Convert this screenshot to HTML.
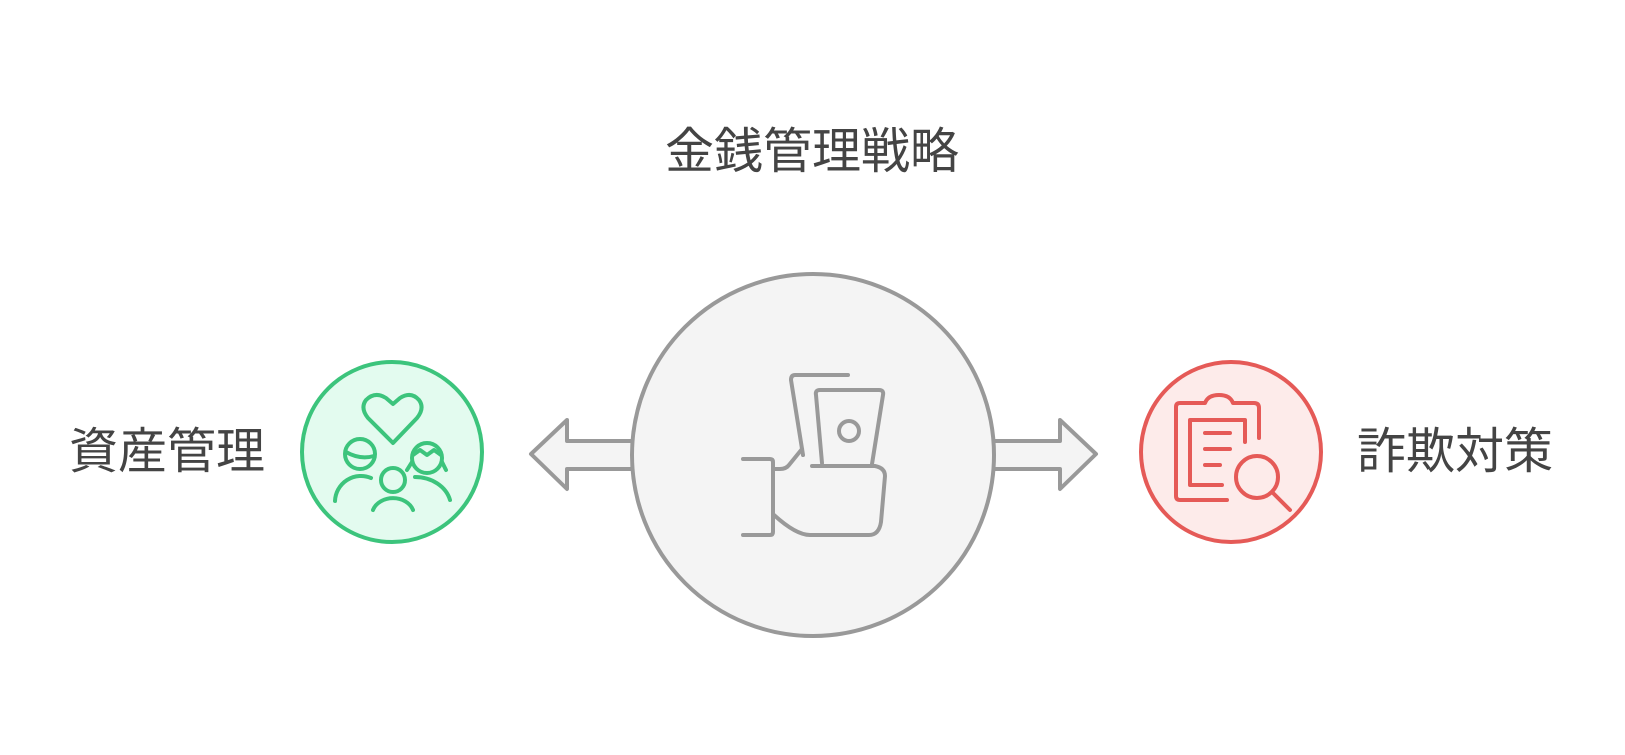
<!DOCTYPE html>
<html><head><meta charset="utf-8"><style>
html,body{margin:0;padding:0;background:#fff;}
body{width:1625px;height:755px;position:relative;overflow:hidden;}
.t{position:absolute;font-family:"Liberation Sans","Noto Sans CJK JP",sans-serif;font-size:49px;color:#444;line-height:1;white-space:nowrap;}
</style></head><body>
<svg width="1625" height="755" style="position:absolute;left:0;top:0" fill="none" stroke-linecap="round" stroke-linejoin="round">
<!-- arrows -->
<path d="M640 441 H567 V420 L531 454 L567 489 V469 H640" fill="#f4f4f4" stroke="#999" stroke-width="4"/>
<path d="M985 441 H1060 V420 L1096 454 L1060 489 V469 H985" fill="#f4f4f4" stroke="#999" stroke-width="4"/>
<circle cx="813" cy="455" r="181" fill="#f4f4f4" stroke="#999" stroke-width="4"/>
<!-- center icon -->
<g stroke="#999" stroke-width="4">
<path d="M848 375 H795 Q791 375 791 380 L803 455"/>
<path d="M822 463 L816 395 Q815 390 820 390 H879 Q884 390 883 395 L872 464"/>
<circle cx="849" cy="431" r="10"/>
<path d="M743 459 H770 Q773 459 773 462 V532 Q773 535 770 535 H743"/>
<path d="M773 469 H780 Q786 469 789 465 L802 449"/>
<path d="M812 466 H875 Q885 468 885 476 L881 522 Q879 535 869 535 H810 Q796 535 774 515"/>
</g>
<!-- green -->
<circle cx="392" cy="452" r="90" fill="#e3fbef" stroke="#3cc47c" stroke-width="4"/>
<g stroke="#3cc47c" stroke-width="4">
<path d="M393 443 L368 418 Q360 408 366 400 Q375 391 386 398 L393 404 L400 398 Q411 391 419 400 Q425 408 417 418 Z"/>
<circle cx="360" cy="454" r="15"/>
<path d="M346 452 Q360 460 374 456"/>
<path d="M335 501 A26 26 0 0 1 371 478"/>
<circle cx="393" cy="480" r="12"/>
<path d="M373 510 A21 17 0 0 1 413 510"/>
<circle cx="427" cy="458" r="15"/>
<path d="M413 455 L420 450 L427 455 L434 450 L441 455"/>
<path d="M412 462 L407 470 M442 462 L446 470"/>
<path d="M415 477 A36 30 0 0 1 450 500"/>
</g>
<!-- red -->
<circle cx="1231" cy="452" r="90" fill="#fdebea" stroke="#e55a57" stroke-width="4"/>
<g stroke="#e55a57" stroke-width="4">
<path d="M1227 500 H1180 Q1176 500 1176 496 V407 Q1176 403 1180 403 H1205 Q1208 395 1219 395 Q1230 395 1233 403 H1254 Q1259 403 1259 408 V438"/>
<path d="M1222 485 H1190 V420 H1245 V442"/>
<path d="M1205 433 H1230 M1205 449 H1230 M1205 465 H1220"/>
<circle cx="1257" cy="477" r="21"/>
<path d="M1273 493 L1290 510"/>
</g>
</svg>
<div class="t" style="left:665px;top:128px;">金銭管理戦略</div>
<div class="t" style="left:69px;top:428px;">資産管理</div>
<div class="t" style="left:1357px;top:428px;">詐欺対策</div>
</body></html>
